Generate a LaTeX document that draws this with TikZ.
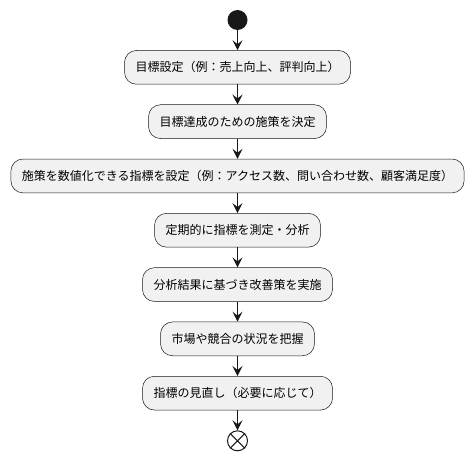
\documentclass[tikz,border=0pt]{standalone}
\usepackage{fontspec}
\setmainfont{Noto Sans CJK JP}
\usetikzlibrary{positioning,arrows.meta}
\definecolor{actfill}{HTML}{F1F1F1}
\definecolor{actline}{HTML}{181818}

\begin{document}
\begin{tikzpicture}[x=1pt,y=1pt,node distance=20pt,
  action/.style={draw=actline,fill=actfill,rounded corners=12pt,minimum height=33.8pt,
    inner xsep=11pt,line width=0.5pt,font=\fontsize{12}{14}\selectfont},
  flow/.style={draw=actline,line width=1pt,-{Stealth[length=10pt,width=10pt,inset=4pt]}}]
  \useasboundingbox (0,0) rectangle (473,-457);
  \node [circle,fill=actline,minimum size=20pt,inner sep=0pt] (start) at (237.5,-20) {};
  \node [action,below=of start] (goal) {目標設定（例：売上向上、評判向上）};
  \node [action,below=of goal] (plan) {目標達成のための施策を決定};
  \node [action,below=of plan] (kpi) {施策を数値化できる指標を設定（例：アクセス数、問い合わせ数、顧客満足度）};
  \node [action,below=of kpi] (measure) {定期的に指標を測定・分析};
  \node [action,below=of measure] (improve) {分析結果に基づき改善策を実施};
  \node [action,below=of improve] (market) {市場や競合の状況を把握};
  \node [action,below=of market] (review) {指標の見直し（必要に応じて）};
  \node [circle,draw=actline,line width=1pt,minimum size=20pt,inner sep=0pt,below=of review] (stop) {};
  \draw [actline,line width=1pt] (stop.45) -- (stop.225) (stop.135) -- (stop.-45);

  \draw [flow] (start) -- (goal);
  \draw [flow] (goal) -- (plan);
  \draw [flow] (plan) -- (kpi);
  \draw [flow] (kpi) -- (measure);
  \draw [flow] (measure) -- (improve);
  \draw [flow] (improve) -- (market);
  \draw [flow] (market) -- (review);
  \draw [flow] (review) -- (stop);
\end{tikzpicture}
\end{document}
